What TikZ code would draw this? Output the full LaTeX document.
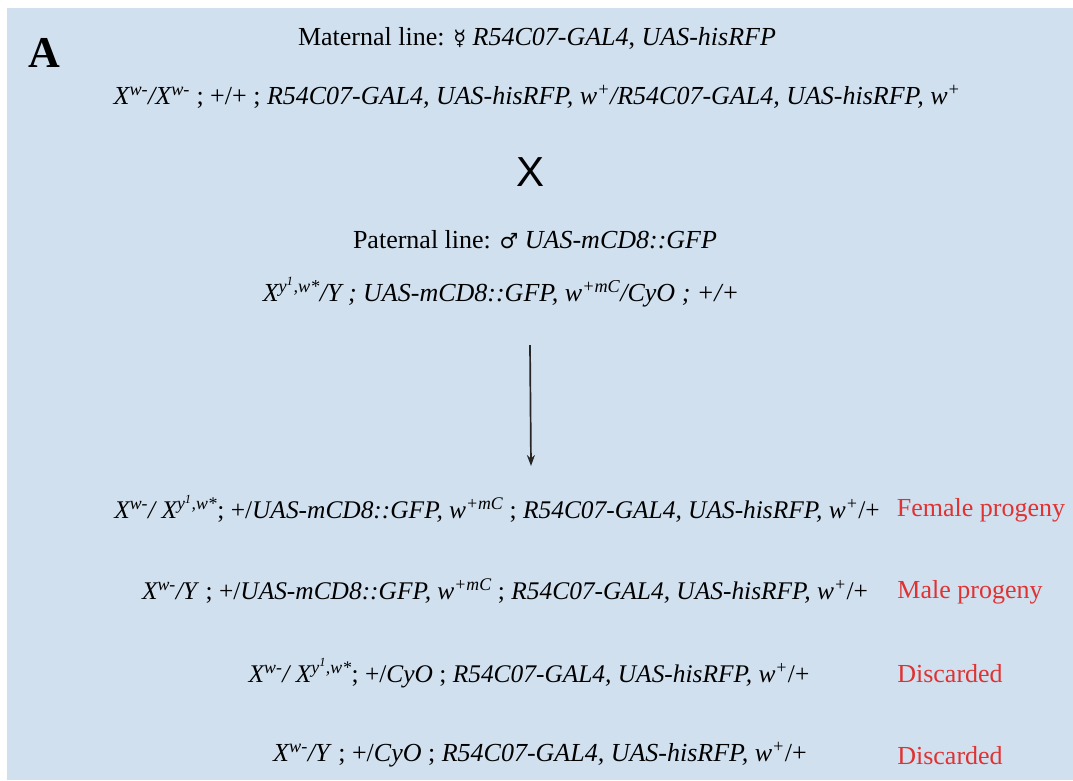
\documentclass[tikz,border=0pt]{standalone}
\usepackage{fontspec}
\usetikzlibrary{arrows.meta}
\setmainfont{Liberation Serif}
\newfontfamily\sansX{Liberation Sans}
\newfontfamily\symf{DejaVu Sans}
\definecolor{panelbg}{RGB}{208,224,239}
\definecolor{labred}{RGB}{224,50,50}
\newcommand{\spx}[1]{\textsuperscript{#1}}
\begin{document}
\begin{tikzpicture}[x=1pt,y=-1pt,
  txt/.style={inner sep=0pt,anchor=center,font=\fontsize{26}{30}\selectfont},
  txts/.style={txt,font=\fontsize{25.4}{30}\selectfont},
  lab/.style={txt,text=labred}]
\useasboundingbox (0,0) rectangle (1073,780);
\fill[panelbg] (7,8) rectangle (1073,780);
\node[inner sep=0pt,font=\fontsize{44}{50}\selectfont\bfseries] (A) at (44,53) {A};
\node[txt] (mat) at (537,38) {Maternal line: {\symf\fontsize{21}{24}\selectfont ☿} \textit{R54C07-GAL4}, \textit{UAS-hisRFP}};
\node[txt] (matg) at (537,97) {\textit{X\spx{w-}/X\spx{w-}} ; +/+ ; \textit{R54C07-GAL4, UAS-hisRFP, w\spx{+}/R54C07-GAL4, UAS-hisRFP, w\spx{+}}};
\node[inner sep=0pt,font=\sansX\fontsize{42}{48}\selectfont] (cross) at (530,172) {X};
\node[txt] (pat) at (535,240) {Paternal line: {\symf\fontsize{21}{24}\selectfont ♂} \textit{UAS-mCD8::GFP}};
\node[txt] (patg) at (501,292) {\textit{X\spx{y\spx{1},w*}/Y ; UAS-mCD8::GFP, w\spx{+mC}/CyO ; +/+}};
\coordinate (arrtop) at (530,345);
\coordinate (arrbot) at (531,466);
\draw[line width=1.7pt,draw=black!85,-{Stealth[length=11pt,width=8pt]}] (arrtop) -- (arrbot);
\node[txts] (f) at (497,509) {\textit{X\spx{w-}/ X\spx{y\spx{1},w*}}; +/\textit{UAS-mCD8::GFP, w\spx{+mC}} ; \textit{R54C07-GAL4, UAS-hisRFP, w\spx{+}}/+};
\node[lab] (fl) at (981,510) {Female progeny};
\node[txts] (m) at (505,591) {\textit{X\spx{w-}/Y} ; +/\textit{UAS-mCD8::GFP, w\spx{+mC}} ; \textit{R54C07-GAL4, UAS-hisRFP, w\spx{+}}/+};
\node[lab] (ml) at (970,592) {Male progeny};
\node[txts] (d1) at (529,673) {\textit{X\spx{w-}/ X\spx{y\spx{1},w*}}; +/\textit{CyO} ; \textit{R54C07-GAL4, UAS-hisRFP, w\spx{+}}/+};
\node[lab] (d1l) at (950,674) {Discarded};
\node[txt] (d2) at (540,755) {\textit{X\spx{w-}/Y} ; +/\textit{CyO} ; \textit{R54C07-GAL4, UAS-hisRFP, w\spx{+}}/+};
\node[lab] (d2l) at (950,756) {Discarded};
\end{tikzpicture}
\end{document}
